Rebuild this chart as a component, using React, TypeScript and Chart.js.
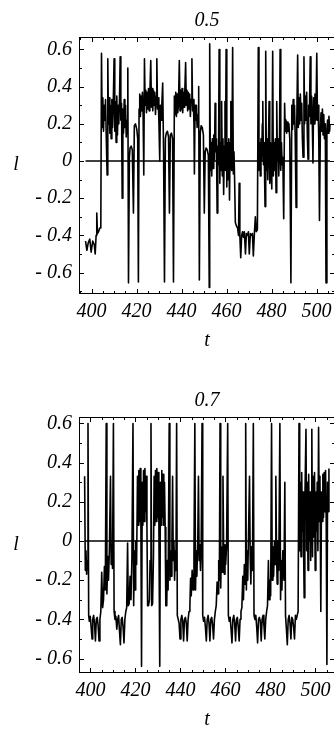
import React, { useEffect, useRef } from "react";
import { Chart, registerables } from "chart.js";

Chart.register(...registerables);

// ---------- data ----------
const TITLE_TOP = "0.5";
const TITLE_BOTTOM = "0.7";
const X_LABEL = "t";
const Y_LABEL = "l";
const X_TICKS = [400, 420, 440, 460, 480, 500];
const Y_TICKS = [-0.6, -0.4, -0.2, 0, 0.2, 0.4, 0.6];

// panel "0.5": [t, l]
const SERIES_05: [number, number][] = [
  [397.3,-0.43],[397.9,-0.48],[398.5,-0.44],[399.2,-0.42],[399.8,-0.49],[400.5,-0.43],[401.2,-0.45],[401.6,-0.50],[402.0,-0.40],[402.3,-0.28],[402.6,-0.39],[403.1,-0.38],[403.6,-0.36],[404.1,-0.36],[404.4,0.58],
  [404.7,0.18],[405.0,0.34],[405.3,0.16],[405.6,0.30],[405.9,0.22],[406.2,0.33],[406.5,0.14],[406.9,-0.075],[407.2,0.55],[407.5,0.20],[407.8,0.34],[408.1,0.15],[408.4,0.30],[408.7,0.12],[409.0,0.33],[409.3,0.18],[409.6,0.29],[410.0,0.55],[410.3,0.16],[410.6,0.32],[410.9,0.10],[411.2,0.35],[411.5,0.14],[411.8,0.30],[412.1,0.20],[412.4,0.33],[412.7,0.56],[413.0,0.22],[413.3,0.31],[413.6,-0.20],[413.9,0.28],[414.2,0.15],[414.5,0.33],[414.8,0.18],[415.1,0.30],[415.4,0.13],[415.8,0.22],[416.1,0.50],[416.4,-0.655],[416.8,0.02],[417.1,0.07],[417.6,0.08],[418.1,0.06],[418.6,-0.28],[419.0,0.19],[419.5,0.20],[420.1,0.17],[420.5,0.12],[420.8,-0.65],
  [421.1,0.28],[421.4,0.36],[421.7,0.24],[422.0,0.35],[422.3,0.27],[422.6,0.37],[422.9,0.25],[423.2,-0.075],[423.5,0.55],[423.8,0.30],[424.1,0.38],[424.4,0.26],[424.7,0.37],[425.0,0.28],[425.3,0.39],[425.6,0.27],[425.9,0.36],[426.3,0.54],[426.6,0.29],[426.9,0.39],[427.2,0.27],[427.5,0.38],[427.8,0.30],[428.1,0.37],[428.4,0.25],[428.7,0.35],[429.0,0.55],[429.3,0.28],[429.6,0.34],[429.9,0.22],[430.3,0.0],[430.6,0.30],[430.9,0.22],[431.2,0.30],[431.6,0.42],[432.0,0.05],[432.4,-0.65],[432.8,0.12],[433.2,0.15],[433.7,0.16],[434.2,0.13],[434.6,-0.28],[435.0,0.14],[435.5,0.15],[436.0,0.12],[436.4,-0.65],
  [436.8,0.35],[437.1,0.25],[437.4,0.37],[437.7,0.24],[438.0,0.36],[438.3,0.26],[438.6,0.30],[439.0,0.54],[439.3,0.27],[439.6,0.38],[439.9,0.28],[440.2,0.39],[440.5,0.26],[440.8,0.37],[441.1,0.29],[441.4,0.36],[441.8,0.53],[442.1,0.30],[442.4,0.38],[442.7,0.27],[443.0,0.37],[443.3,0.28],[443.6,0.36],[443.9,0.24],[444.2,0.33],[444.6,0.55],[444.9,0.27],[445.2,0.33],[445.5,0.20],[445.7,-0.07],[446.0,0.30],[446.3,0.22],[446.6,0.30],[446.9,0.18],[447.3,0.25],[447.6,0.40],[447.9,-0.64],[448.3,0.15],[448.7,0.19],[449.2,0.18],[449.7,0.14],[450.1,-0.28],[450.5,0.05],[450.9,0.07],[451.4,0.06],[451.9,0.03],[452.3,-0.68],
  [452.5,0.63],[452.8,-0.05],[453.1,0.10],[453.4,-0.08],[453.7,0.12],[454.0,-0.04],[454.3,0.14],[454.6,0.0],[454.9,0.31],[455.2,0.05],[455.5,0.12],[455.8,-0.28],[456.1,0.08],[456.4,-0.02],[456.7,0.60],[457.0,-0.12],[457.3,0.10],[457.6,-0.05],[457.8,0.32],[458.1,-0.08],[458.4,0.12],[458.7,-0.18],[459.0,0.08],[459.3,0.32],[459.5,-0.05],[459.8,0.60],[460.1,-0.14],[460.4,0.10],[460.7,-0.10],[461.0,0.12],[461.3,-0.21],[461.6,0.10],[461.9,0.32],[462.2,-0.05],[462.4,0.08],[462.7,0.61],[463.0,-0.07],[463.3,0.05],[463.6,-0.12],[463.9,-0.33],
  [464.4,-0.35],[464.9,-0.36],[465.3,-0.40],[465.6,-0.12],[465.9,-0.40],[466.3,-0.52],[466.7,-0.40],[467.1,-0.38],[467.5,-0.41],[467.9,-0.38],[468.4,-0.50],[468.8,-0.39],[469.3,-0.40],[469.7,-0.38],[470.1,-0.50],[470.6,-0.39],[471.1,-0.40],[471.5,-0.39],[471.9,-0.51],[472.4,-0.38],[472.8,-0.30],[473.2,-0.38],[473.7,-0.37],
  [474.1,0.61],[474.4,-0.05],[474.7,0.10],[475.0,-0.08],[475.3,0.12],[475.6,0.0],[475.9,0.20],[476.1,0.32],[476.4,-0.02],[476.7,0.10],[477.1,-0.245],[477.4,0.59],[477.7,-0.05],[478.0,0.12],[478.3,-0.10],[478.6,0.08],[478.9,0.32],[479.2,-0.12],[479.5,0.10],[479.8,-0.06],[480.1,-0.15],[480.5,0.59],[480.8,-0.08],[481.1,0.10],[481.4,-0.05],[481.7,0.12],[482.0,-0.17],[482.3,0.32],[482.6,0.0],[482.9,0.12],[483.2,-0.08],[483.5,0.05],[483.8,0.60],[484.1,-0.05],[484.4,0.10],[484.7,-0.02],[485.0,0.02],[485.4,-0.31],[485.8,0.31],[486.1,0.16],[486.4,0.22],[486.7,0.15],[487.0,0.21],[487.3,0.16],[487.7,0.20],[488.1,0.12],[488.6,-0.655],
  [489.0,0.30],[489.3,0.17],[489.6,0.33],[489.9,0.20],[490.2,0.30],[490.5,0.14],[490.9,-0.25],[491.2,0.20],[491.6,0.57],[491.9,0.18],[492.2,0.34],[492.5,0.20],[492.8,0.36],[493.1,0.22],[493.4,0.31],[493.7,0.12],[494.0,0.02],[494.4,0.56],[494.7,0.20],[495.0,0.35],[495.3,0.22],[495.6,0.37],[495.9,0.14],[496.2,0.01],[496.5,0.30],[496.8,0.24],[497.2,0.56],[497.5,0.20],[497.8,0.35],[498.1,0.22],[498.4,-0.01],[498.7,0.34],[499.0,0.20],[499.3,0.36],[499.7,0.22],[500.1,0.58],[500.4,0.22],[500.7,0.30],[501.0,0.10],[501.3,-0.32],[501.7,0.18],[502.0,0.26],[502.3,0.16],[502.6,0.28],[502.9,0.14],[503.2,0.25],[503.5,0.12],[503.9,0.20],[504.2,-0.655],[504.6,0.16],[504.9,0.22],[505.2,0.15],[505.5,0.24],[505.8,0.16],[506.0,0.20],
];

// panel "0.7": [t, l]
const SERIES_07: [number, number][] = [
  [397.4,0.33],[397.7,-0.15],[398.0,-0.05],[398.3,-0.17],[398.6,-0.10],[398.9,0.60],[399.2,-0.38],[399.5,-0.41],[399.9,-0.385],[400.3,-0.44],[400.7,-0.50],[401.0,-0.40],[401.4,-0.38],[401.8,-0.42],[402.2,-0.51],[402.6,-0.40],[403.0,-0.39],[403.4,-0.43],[403.8,-0.51],[404.2,-0.40],[404.6,-0.36],[405.0,-0.16],[405.4,-0.34],[405.8,-0.30],[406.2,-0.13],[406.6,-0.25],[407.0,0.60],[407.3,-0.27],[407.7,-0.08],[408.0,-0.20],[408.4,-0.05],[408.9,0.33],[409.2,-0.12],[409.5,-0.02],[409.8,-0.14],[410.2,0.60],
  [410.5,-0.36],[410.9,-0.40],[411.3,-0.385],[411.7,-0.45],[412.1,-0.40],[412.5,-0.38],[412.9,-0.46],[413.3,-0.53],[413.7,-0.40],[414.1,-0.39],[414.5,-0.44],[414.9,-0.52],[415.3,-0.40],[415.7,-0.36],[416.1,-0.34],[416.5,-0.01],[416.8,-0.33],[417.2,-0.32],[417.6,-0.18],[418.0,-0.30],[418.4,-0.10],[418.9,0.60],[419.2,-0.33],[419.5,-0.05],[419.8,-0.25],[420.1,0.0],[420.5,-0.12],[420.9,0.33],
  [421.2,0.08],[421.5,0.36],[421.8,0.10],[422.1,0.37],[422.4,0.12],[422.7,-0.64],[423.0,0.30],[423.3,0.08],[423.6,0.36],[423.9,0.10],[424.2,0.37],[424.5,0.15],[424.8,0.33],[425.1,0.07],[425.4,-0.33],[425.8,-0.33],[426.2,-0.30],[426.5,-0.10],[426.9,0.60],[427.2,-0.33],[427.6,-0.32],[428.0,-0.08],[428.3,0.33],[428.6,0.08],[428.9,0.36],[429.2,0.10],[429.5,0.37],[429.8,0.12],[430.1,0.35],[430.4,0.10],[430.8,-0.64],[431.1,0.30],[431.4,0.08],[431.7,0.36],[432.0,0.12],[432.3,0.34],[432.6,0.08],[432.9,0.30],[433.2,0.07],[433.5,-0.33],[433.9,-0.33],[434.2,-0.10],[434.5,-0.25],[435.0,0.60],[435.3,-0.20],[435.6,-0.05],[435.9,-0.18],[436.2,-0.02],[436.5,0.33],[436.8,-0.10],[437.1,0.0],[437.4,-0.20],[437.7,-0.05],[438.0,-0.15],[438.3,0.60],
  [438.6,-0.38],[439.0,-0.40],[439.4,-0.42],[439.8,-0.50],[440.2,-0.40],[440.6,-0.38],[441.0,-0.41],[441.4,-0.51],[441.8,-0.40],[442.2,-0.39],[442.6,-0.42],[443.0,-0.51],[443.4,-0.40],[443.8,-0.36],[444.2,-0.33],[444.5,-0.19],[444.8,-0.28],[445.2,-0.15],[445.6,-0.25],[446.0,-0.08],[446.4,0.60],[446.7,-0.25],[447.0,-0.05],[447.3,-0.18],[447.7,0.0],[448.0,0.33],[448.3,-0.10],[448.6,-0.02],[448.9,-0.15],[449.2,-0.05],[449.6,0.60],
  [449.9,-0.38],[450.3,-0.41],[450.7,-0.39],[451.1,-0.44],[451.5,-0.51],[451.9,-0.40],[452.3,-0.38],[452.7,-0.42],[453.1,-0.51],[453.5,-0.40],[453.9,-0.39],[454.3,-0.43],[454.7,-0.50],[455.1,-0.40],[455.5,-0.36],[455.9,-0.33],[456.3,-0.21],[456.7,-0.27],[457.0,-0.10],[457.3,-0.20],[457.6,0.60],[457.9,-0.24],[458.2,-0.03],[458.5,-0.16],[458.9,0.33],[459.2,-0.05],[459.5,-0.17],[459.8,-0.02],[460.1,-0.12],[460.5,-0.03],[461.0,0.60],
  [461.3,-0.38],[461.7,-0.41],[462.1,-0.39],[462.5,-0.45],[462.9,-0.52],[463.3,-0.40],[463.7,-0.38],[464.1,-0.42],[464.5,-0.51],[464.9,-0.40],[465.3,-0.39],[465.7,-0.44],[466.1,-0.51],[466.5,-0.40],[466.9,-0.36],[467.3,-0.34],[467.7,-0.18],[468.0,-0.30],[468.4,-0.12],[468.7,-0.22],[469.0,0.60],[469.3,-0.25],[469.6,-0.05],[469.9,-0.20],[470.2,0.0],[470.7,0.33],[471.0,-0.08],[471.3,-0.22],[471.6,-0.03],[472.0,-0.15],[472.4,0.60],
  [472.7,-0.38],[473.1,-0.40],[473.5,-0.38],[473.9,-0.44],[474.3,-0.52],[474.7,-0.40],[475.1,-0.39],[475.5,-0.41],[475.9,-0.51],[476.3,-0.40],[476.7,-0.38],[477.1,-0.43],[477.5,-0.50],[477.9,-0.40],[478.3,-0.36],[478.7,-0.33],[479.1,-0.10],[479.4,-0.30],[479.8,-0.20],[480.1,-0.28],[480.5,0.60],[480.8,-0.20],[481.1,-0.03],[481.4,-0.18],[481.8,0.0],[482.1,-0.12],[482.4,0.33],[482.7,-0.05],[483.0,-0.22],[483.3,0.0],[483.7,-0.15],[484.2,0.60],[484.5,-0.30],[484.8,-0.10],[485.1,-0.25],[485.5,-0.05],[486.0,-0.20],[486.4,0.30],
  [486.7,-0.38],[487.1,-0.45],[487.5,-0.53],[487.9,-0.40],[488.3,-0.38],[488.7,-0.42],[489.1,-0.50],[489.5,-0.39],[489.9,-0.40],[490.3,-0.44],[490.7,-0.50],[491.1,-0.38],[491.5,-0.40],[491.9,-0.38],[492.3,-0.36],
  [492.7,0.60],[493.0,-0.05],[493.3,0.30],[493.6,-0.08],[493.9,0.35],[494.2,0.05],[494.5,0.25],[494.8,-0.10],[495.0,-0.29],[495.3,0.20],[495.8,0.57],[496.1,-0.05],[496.4,0.30],[496.7,-0.15],[497.0,0.34],[497.3,0.0],[497.6,0.25],[497.9,-0.10],[498.1,0.20],[498.4,0.57],[498.7,-0.08],[499.0,0.33],[499.3,0.02],[499.6,0.35],[499.9,-0.15],[500.2,0.25],[500.5,0.05],[500.8,0.30],[501.1,-0.05],[501.4,0.58],[501.7,0.10],[502.0,0.33],[502.4,-0.36],[502.7,0.25],[503.0,0.10],[503.3,0.34],[503.6,0.12],[503.9,0.35],[504.2,0.15],[504.5,0.36],[504.8,0.10],[505.1,-0.63],[505.4,0.30],[505.7,0.15],[506.0,0.37],
];

// ---------- rendering ----------
const FONT_FAMILY = "'Liberation Serif', 'DejaVu Serif', serif";
const FONT = { family: FONT_FAMILY, size: 20, style: "italic" as const, weight: "normal" as const, lineHeight: 1.2 };

function fmtY(v: number): string {
  if (Math.abs(v) < 1e-9) return "0";
  const s = Math.abs(v).toFixed(1);
  return v < 0 ? "- " + s : s;
}

const framePlugin = {
  id: "mmaFrame",
  afterDraw(chart: any) {
    const { ctx, chartArea: a, scales } = chart;
    const xs = scales.x;
    const ys = scales.y;
    ctx.save();
    ctx.strokeStyle = "#000";
    ctx.lineWidth = 1;
    ctx.strokeRect(a.left + 0.5, a.top + 0.5, a.right - a.left - 1, a.bottom - a.top - 1);
    ctx.beginPath();
    for (let v = 395; v <= 510; v += 5) {
      const px = Math.round(xs.getPixelForValue(v)) + 0.5;
      if (px <= a.left + 1 || px >= a.right - 1) continue;
      const len = v % 20 === 0 ? 5 : 3;
      ctx.moveTo(px, a.bottom);
      ctx.lineTo(px, a.bottom - len);
      ctx.moveTo(px, a.top);
      ctx.lineTo(px, a.top + len);
    }
    for (let k = -7; k <= 7; k++) {
      const py = Math.round(ys.getPixelForValue(k / 10)) + 0.5;
      if (py <= a.top + 1 || py >= a.bottom - 1) continue;
      const len = k % 2 === 0 ? 5 : 3;
      ctx.moveTo(a.left, py);
      ctx.lineTo(a.left + len, py);
      ctx.moveTo(a.right, py);
      ctx.lineTo(a.right - len, py);
    }
    ctx.stroke();
    ctx.fillStyle = "#000";
    ctx.font = "italic 20px " + FONT_FAMILY;
    ctx.textAlign = "center";
    ctx.textBaseline = "middle";
    ctx.fillText(Y_LABEL, 16, ys.getPixelForValue(0) + 4);
    ctx.fillText(X_LABEL, (a.left + a.right) / 2, a.bottom + 47);
    ctx.restore();
  },
};

type PanelProps = {
  title: string;
  series: [number, number][];
  top: number;
  height: number;
  plotBottom: number;
  xMin: number;
  xMax: number;
  yMin: number;
  yMax: number;
};

function Panel({ title, series, top, height, plotBottom, xMin, xMax, yMin, yMax }: PanelProps) {
  const ref = useRef<HTMLCanvasElement | null>(null);
  useEffect(() => {
    if (!ref.current) return;
    const chart = new Chart(ref.current, {
      type: "line",
      data: {
        datasets: [
          {
            data: series.map(([t, l]) => ({ x: t, y: l })),
            borderColor: "#000",
            borderWidth: 1.6,
            pointRadius: 0,
            tension: 0,
            fill: false,
            borderJoinStyle: "round",
          },
          {
            data: [
              { x: series[0][0], y: 0 },
              { x: series[series.length - 1][0], y: 0 },
            ],
            borderColor: "#000",
            borderWidth: 1.6,
            pointRadius: 0,
            fill: false,
          },
        ],
      },
      options: {
        animation: false,
        responsive: false,
        events: [],
        layout: { padding: { left: 0, right: 5, top: 0, bottom: 0 } },
        plugins: {
          legend: { display: false },
          tooltip: { enabled: false },
          title: {
            display: true,
            text: title,
            fullSize: false,
            color: "#000",
            font: FONT,
            padding: { top: 9, bottom: 4 },
          },
        },
        scales: {
          x: {
            type: "linear",
            min: xMin,
            max: xMax,
            grid: { display: false, drawTicks: false },
            border: { display: false },
            afterBuildTicks: (s: any) => {
              s.ticks = X_TICKS.map((v) => ({ value: v }));
            },
            afterFit: (s: any) => {
              s.height = height - plotBottom;
            },
            ticks: {
              color: "#000",
              font: FONT,
              padding: 6,
              maxRotation: 0,
              autoSkip: false,
              includeBounds: false,
              callback: (v: any) => String(v),
            },
          },
          y: {
            type: "linear",
            min: yMin,
            max: yMax,
            grid: { display: false, drawTicks: false },
            border: { display: false },
            afterBuildTicks: (s: any) => {
              s.ticks = Y_TICKS.map((v) => ({ value: v }));
            },
            afterFit: (s: any) => {
              s.width = 79;
            },
            ticks: {
              color: "#000",
              font: FONT,
              padding: 7,
              autoSkip: false,
              includeBounds: false,
              callback: (v: any) => fmtY(Number(v)),
            },
          },
        },
      } as any,
      plugins: [framePlugin],
    });
    return () => chart.destroy();
  }, []);
  return (
    <div style={{ position: "absolute", left: 0, top, width: 340, height }}>
      <canvas ref={ref} width={340} height={height} style={{ display: "block", width: 340, height }} />
    </div>
  );
}

export default function App() {
  return (
    <div
      style={{
        position: "absolute",
        left: 0,
        top: 0,
        width: 334,
        height: 729,
        overflow: "hidden",
        background: "#fff",
      }}
    >
      <Panel title={TITLE_TOP} series={SERIES_05} top={0} height={380} plotBottom={294}
        xMin={394.4} xMax={508.2} yMin={-0.715} yMax={0.667} />
      <Panel title={TITLE_BOTTOM} series={SERIES_07} top={380} height={349} plotBottom={293}
        xMin={394.9} xMax={508.7} yMin={-0.674} yMax={0.633} />
    </div>
  );
}
